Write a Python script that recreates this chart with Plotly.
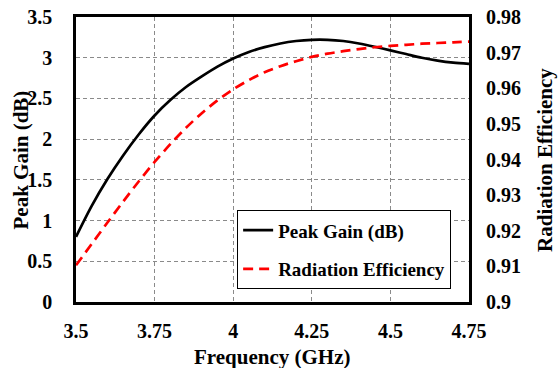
import plotly.graph_objects as go

# ---- data ----
freq = [3.50, 3.55, 3.60, 3.65, 3.70, 3.75, 3.80, 3.85, 3.90, 3.95,
        4.00, 4.05, 4.10, 4.15, 4.20, 4.25, 4.30, 4.35, 4.40, 4.45,
        4.50, 4.55, 4.60, 4.65, 4.70, 4.75]
peak_gain = [0.80, 1.18, 1.51, 1.80, 2.06, 2.29, 2.48, 2.64, 2.77, 2.89,
             2.99, 3.07, 3.13, 3.175, 3.205, 3.22, 3.22, 3.205, 3.175, 3.135,
             3.09, 3.045, 3.00, 2.965, 2.94, 2.925]
rad_eff = [0.9103, 0.9163, 0.9223, 0.9282, 0.9339, 0.9393, 0.9443, 0.9489, 0.9530, 0.9566,
           0.9597, 0.9623, 0.9645, 0.9662, 0.9676, 0.9688, 0.9697, 0.9704, 0.9710, 0.9715,
           0.9719, 0.9722, 0.9725, 0.9727, 0.9729, 0.9731]

x_ticks = [3.5, 3.75, 4.0, 4.25, 4.5, 4.75]
x_ticktext = ["3.5", "3.75", "4", "4.25", "4.5", "4.75"]
y_ticks = [0, 0.5, 1, 1.5, 2, 2.5, 3, 3.5]
y_ticktext = ["0", "0.5", "1", "1.5", "2", "2.5", "3", "3.5"]
y2_ticks = [0.90, 0.91, 0.92, 0.93, 0.94, 0.95, 0.96, 0.97, 0.98]
y2_ticktext = ["0.9", "0.91", "0.92", "0.93", "0.94", "0.95", "0.96", "0.97", "0.98"]

FONT = "Liberation Serif"
tickfont = dict(family=FONT, size=20, color="black", weight="bold")
titlefont = dict(family=FONT, size=21, color="black", weight="bold")

fig = go.Figure()
fig.add_trace(go.Scatter(
    x=freq, y=peak_gain, mode="lines", name="Peak Gain (dB)",
    line=dict(color="black", width=2.7, shape="spline", smoothing=0.8),
    legendgroup="a"))
fig.add_trace(go.Scatter(
    x=freq, y=rad_eff, mode="lines", name="Radiation Efficiency",
    line=dict(color="#ff0000", width=2.7, dash="10px,6px", shape="spline", smoothing=0.8),
    yaxis="y2", legendgroup="b"))

grid = dict(showgrid=True, gridcolor="#8a8a8a", gridwidth=1, griddash="4px,3px")

fig.update_layout(
    width=558, height=368,
    margin=dict(l=76, r=89, t=17, b=66, autoexpand=False),
    paper_bgcolor="white", plot_bgcolor="white",
    showlegend=True,
    xaxis=dict(range=[3.5, 4.75], tickvals=x_ticks, ticktext=x_ticktext,
               tickfont=tickfont, ticks="", ticklabelstandoff=9, automargin=False,
               showline=True, linecolor="black", linewidth=2.5, mirror=True,
               zeroline=False, **grid),
    yaxis=dict(range=[0, 3.5], tickvals=y_ticks, ticktext=y_ticktext,
               tickfont=tickfont, ticks="", ticklabelstandoff=17, automargin=False,
               showline=True, linecolor="black", linewidth=2.5, mirror=True,
               zeroline=False, **grid),
    yaxis2=dict(range=[0.9, 0.98], tickvals=y2_ticks, ticktext=y2_ticktext,
                tickfont=tickfont, ticks="", ticklabelstandoff=16, automargin=False,
                overlaying="y", side="right", showgrid=False, zeroline=False,
                showline=False),
    legend=dict(x=0.41, y=0.322, xanchor="left", yanchor="top",
                bgcolor="white", bordercolor="black", borderwidth=1,
                font=dict(family=FONT, size=19, color="black", weight="bold"),
                traceorder="grouped", tracegroupgap=11),
    annotations=[
        dict(text="Frequency (GHz)", xref="paper", yref="paper", x=0.5, y=-0.193,
             xanchor="center", yanchor="middle", showarrow=False, font=titlefont),
        dict(text="Peak Gain (dB)", xref="paper", yref="paper", x=-0.14, y=0.5,
             xanchor="center", yanchor="middle", showarrow=False, textangle=-90,
             font=titlefont),
        dict(text="Radiation Efficiency", xref="paper", yref="paper", x=1.192, y=0.5,
             xanchor="center", yanchor="middle", showarrow=False, textangle=-90,
             font=titlefont),
    ],
)

fig.write_html("out.html", config={"displayModeBar": False},
               post_script="document.body.style.margin='0';")
